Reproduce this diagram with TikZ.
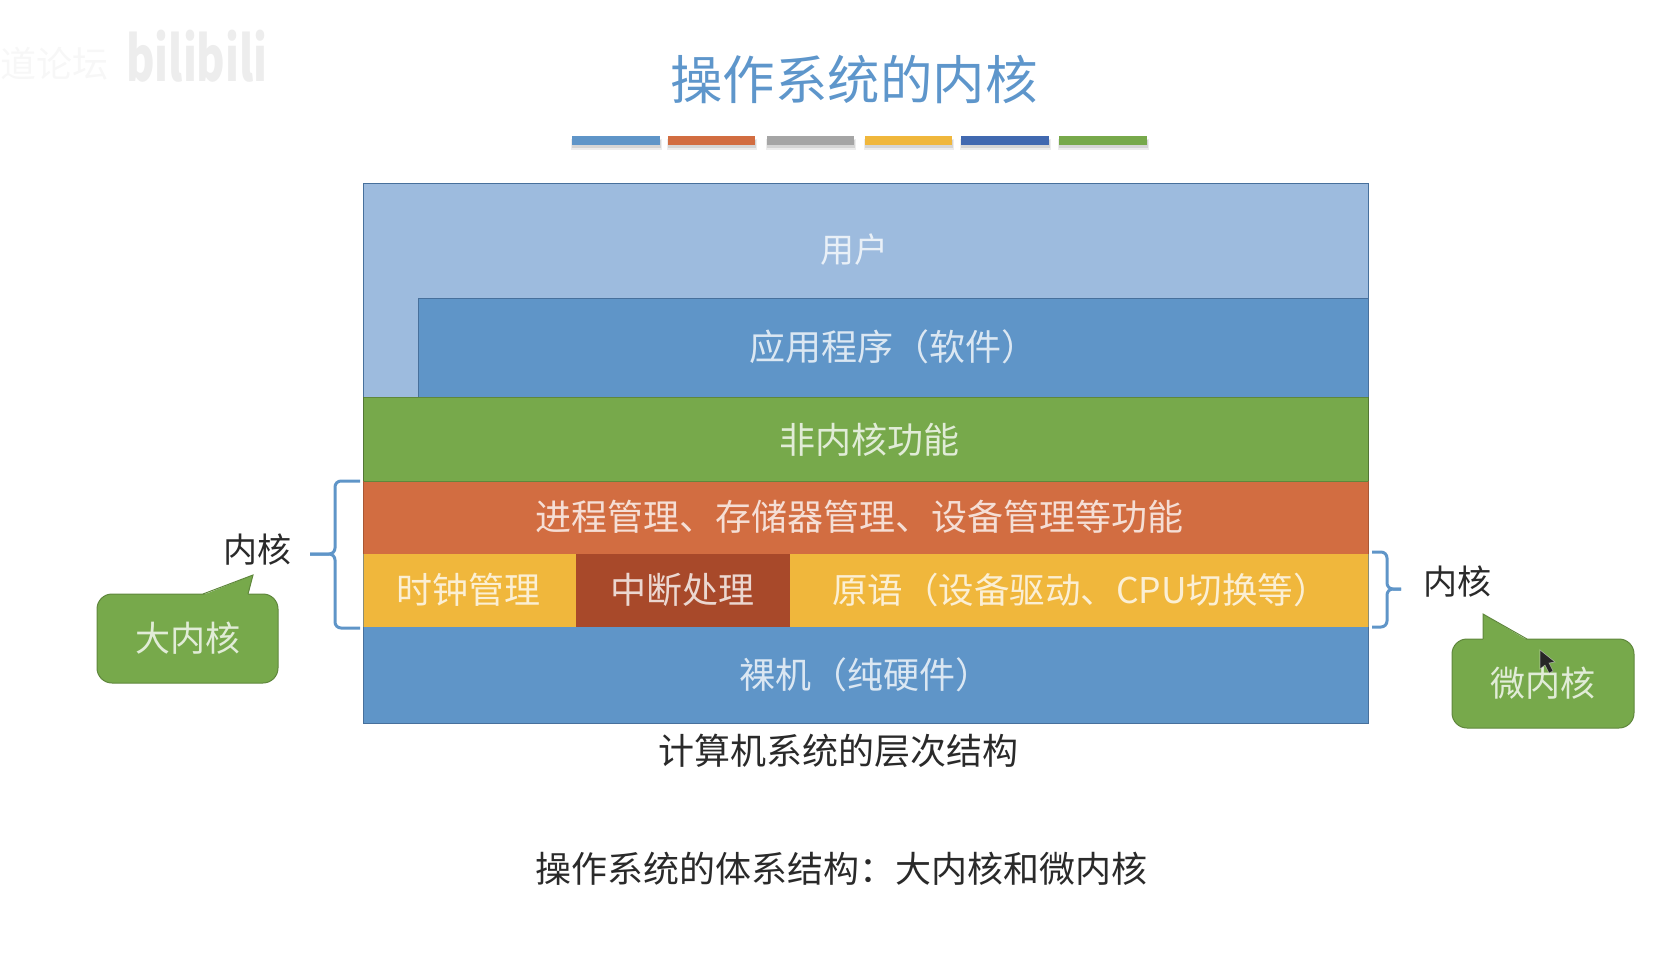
\documentclass[tikz,border=0pt]{standalone}
\usepackage{fontspec}
\setmainfont{Noto Sans CJK SC}
\definecolor{lightblue}{HTML}{9DBBDE}
\definecolor{midblue}{HTML}{5F95C8}
\definecolor{leaf}{HTML}{77A94B}
\definecolor{rust}{HTML}{D26D41}
\definecolor{amber}{HTML}{F0B73C}
\definecolor{brick}{HTML}{A8492A}
\definecolor{bargray}{HTML}{A5A5A5}
\definecolor{navy}{HTML}{4169B0}
\definecolor{titleblue}{HTML}{5E96CB}
\definecolor{edgeblue}{HTML}{47709C}
\definecolor{inkblack}{HTML}{2A2A2A}
\newcommand{\fs}[1]{\fontsize{#1}{#1}\selectfont}
\tikzset{
  x=1pt,y=-1pt,
  onfill/.style={text=white,text opacity=.78,inner sep=0pt},
  onfillw/.style={onfill,anchor=west},
  plain/.style={text=inkblack,inner sep=0pt},
  bracket/.style={draw=midblue,line width=3pt,rounded corners=6pt},
  bubble/.style={onfill,fill=leaf,draw=leaf!80!black,line width=1pt,rounded corners=15pt,minimum height=89pt,outer sep=0pt},
  bubbletip/.style={draw=leaf!80!black,line width=1pt},
}
\begin{document}
\begin{tikzpicture}
\useasboundingbox (0,0) rectangle (1658,979);
% watermark
\node[text=black!3,inner sep=0pt,anchor=west] (wm1) at (0,64) {\fs{36}道论坛};
\node[text=black!7,inner sep=0pt,anchor=west,xscale=.7,transform shape] (wm2) at (126,56) {\fs{62}\bfseries bilibili};
% title
\node[inner sep=0pt,text=titleblue] (title) at (854,80) {\fs{57}\scalebox{.92}{操作系统的内核}};
% title bars
\foreach \xa/\xb/\c in {572/660/midblue,668/755/rust,767/854/bargray,865/952/amber,961/1049/navy,1059/1147/leaf}{
  \fill[black,opacity=.07] (\xa-1,139) rectangle (\xb+2,150);
  \fill[black,opacity=.10] (\xa,140) rectangle (\xb+1,148);
  \fill[\c] (\xa,136) rectangle (\xb,145);
}
% layers
\draw[fill=lightblue,draw=edgeblue,line width=1pt] (363,184) rectangle (1368,398);
\draw[fill=midblue,draw=edgeblue,line width=1pt] (418.5,298.5) rectangle (1368,397);
\fill[leaf] (363,397) rectangle (1368,481);
\draw[leaf!80!black,line width=1pt] (363,397.5) -- (1368,397.5) (363,481) -- (1368,481);
\fill[rust] (363,481.5) rectangle (1368,554);
\fill[amber] (363,554) rectangle (1368,627);
\fill[brick] (576,554) rectangle (790,627);
\fill[midblue] (363,627) rectangle (1368,723);
\draw[edgeblue,line width=1pt] (363,627) -- (363,723) -- (1368,723) -- (1368,627);
\draw[edgeblue!60!amber,line width=.8pt] (363,554) -- (363,627) (1368,554) -- (1368,627);
\draw[rust!80!black,line width=.8pt] (363,481) -- (363,554) (1368,481) -- (1368,554);
\draw[leaf!70!black,line width=.8pt] (363,397) -- (363,481) (1368,397) -- (1368,481);
% layer texts
\node[onfill] (user) at (854,250) {\fs{34}用户};
\node[onfillw] (app) at (749,347) {\fs{36}应用程序（软件）};
\node[onfill] (nonkernel) at (869,440) {\fs{36}非内核功能};
\node[onfillw] (manage) at (535,517) {\fs{36}进程管理、存储器管理、设备管理等功能};
\node[onfill] (clock) at (468,590) {\fs{36}时钟管理};
\node[onfill] (irq) at (682,590) {\fs{36}中断处理};
\node[onfillw] (prim) at (832,590) {\fs{35.5}原语（设备驱动、CPU切换等）};
\node[onfillw] (bare) at (739,675) {\fs{36}裸机（纯硬件）};
\node[plain] (cap1) at (838,751) {\fs{36}计算机系统的层次结构};
\node[plain] (cap2) at (841,869) {\fs{36}操作系统的体系结构：大内核和微内核};
% braces
\draw[bracket] (360,481) -- (335,481) -- (335,554) -- (310,554);
\draw[bracket] (310,554) -- (335,554) -- (335,628) -- (360,628);
\draw[bracket] (1372,552) -- (1387,552) -- (1387,589) -- (1401,589);
\draw[bracket] (1401,589) -- (1387,589) -- (1387,627) -- (1372,627);
\node[plain] (kleft) at (257,550) {\fs{34}内核};
\node[plain] (kright) at (1457,582) {\fs{34}内核};
% callouts
\node[bubble,minimum width=181pt] (big) at (187.5,638.5) {\fs{35}大内核};
\fill[leaf] (203,595) -- (253,575) -- (248,595) -- cycle;
\draw[bubbletip] (203,594) -- (253,575) -- (248,594);
\node[bubble,minimum width=182pt] (micro) at (1543,683.5) {\fs{35}微内核};
\fill[leaf] (1483,640) -- (1483,614) -- (1527,640) -- cycle;
\draw[bubbletip] (1483,639) -- (1483,614) -- (1527,639);
% mouse pointer
\fill[black!85,draw=white,draw opacity=.5,line width=.6pt] (1540,650) -- (1540,669) -- (1545,665) -- (1549,673) -- (1553,671) -- (1549,663) -- (1555,662) -- cycle;
\end{tikzpicture}
\end{document}
